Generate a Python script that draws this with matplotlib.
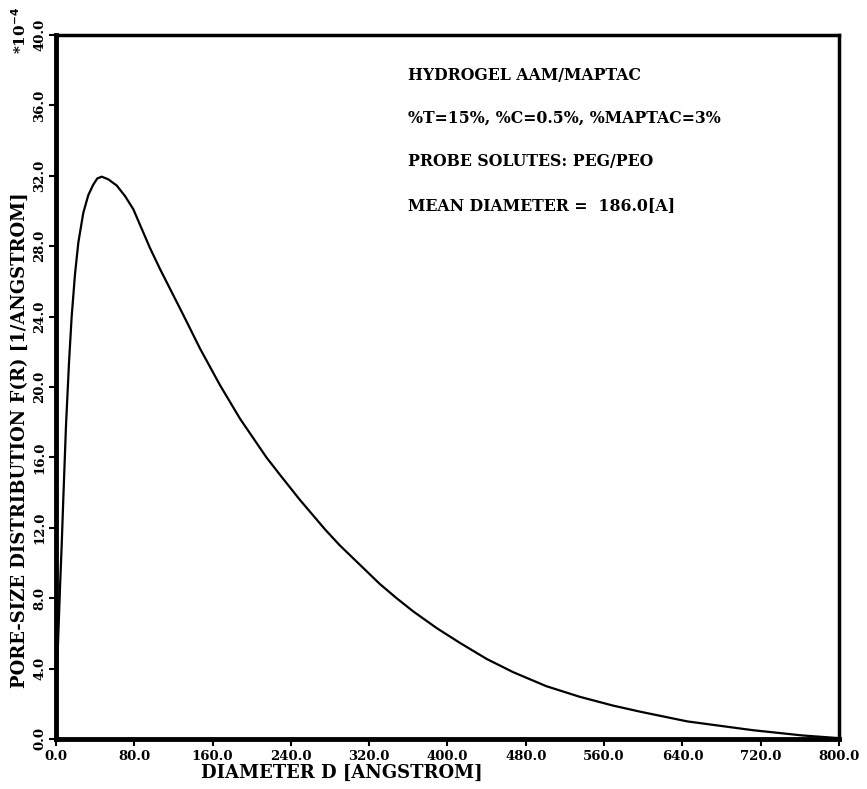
import matplotlib
matplotlib.use("Agg")
import matplotlib.pyplot as plt

# Pore-size distribution of the AAM/MAPTAC hydrogel (values in units of 1e-4 / Angstrom)
diameter = [0.0, 0.6, 1.5, 3.0, 4.3, 5.8, 7.5, 10.2, 13.3, 16.0, 19.4, 22.8,
            27.9, 33.0, 38.1, 42.2, 46.7, 53.4, 62.0, 70.5, 79.0, 87.5, 96.0,
            106.3, 130.0, 147.0, 167.6, 188.0, 215.0, 229.0, 249.0, 275.0,
            290.0, 331.0, 348.0, 365.0, 389.0, 413.0, 440.0, 467.0, 501.0,
            535.0, 569.0, 597.0, 645.0, 712.0, 763.0, 800.0]
density = [0.0, 2.5, 4.6, 6.9, 8.9, 11.0, 13.7, 17.8, 21.4, 24.0, 26.4, 28.2,
           29.9, 30.9, 31.5, 31.85, 31.95, 31.8, 31.45, 30.85, 30.1, 29.0, 27.9,
           26.7, 24.1, 22.2, 20.1, 18.2, 16.0, 15.0, 13.6, 11.9,
           11.0, 8.8, 8.0, 7.25, 6.3, 5.45, 4.55, 3.8, 3.0,
           2.4, 1.9, 1.55, 1.0, 0.5, 0.2, 0.05]

x_ticks = [0, 80, 160, 240, 320, 400, 480, 560, 640, 720, 800]
y_ticks = [0, 4, 8, 12, 16, 20, 24, 28, 32, 36, 40]

info_lines = [
    "HYDROGEL AAM/MAPTAC",
    "%T=15%, %C=0.5%, %MAPTAC=3%",
    "PROBE SOLUTES: PEG/PEO",
    "MEAN DIAMETER =  186.0[A]",
]

serif = ["DejaVu Serif"]

fig = plt.figure(figsize=(8.67, 7.89), dpi=100)
ax = fig.add_axes([56 / 867, 1 - 739 / 789, 783 / 867, 704 / 789])

ax.plot(diameter, density, color="black", lw=1.6, solid_joinstyle="round",
        solid_capstyle="round")

ax.set_xlim(0, 800)
ax.set_ylim(0, 40)
ax.set_xticks(x_ticks)
ax.set_yticks(y_ticks)
ax.set_xticklabels([f"{v:.1f}" for v in x_ticks], fontfamily=serif,
                   fontweight="bold", fontsize=9.5)
ax.set_yticklabels([f"{v:.1f}" for v in y_ticks], fontfamily=serif,
                   fontweight="bold", fontsize=9.5, rotation=90, va="center")
ax.tick_params(axis="x", direction="out", length=5, width=1.5, pad=3)
ax.tick_params(axis="y", direction="out", length=5, width=1.5, pad=2)

for side, w in (("left", 3.5), ("bottom", 3.5), ("top", 2.5), ("right", 2.5)):
    ax.spines[side].set_linewidth(w)

fig.text(342 / 867, 1 - 773 / 789, "DIAMETER D [ANGSTROM]", ha="center",
         va="center", fontfamily=serif, fontweight="bold", fontsize=13)
fig.text(20 / 867, 1 - 440 / 789, "PORE-SIZE DISTRIBUTION F(R) [1/ANGSTROM]",
         ha="center", va="center", rotation=90, fontfamily=serif,
         fontweight="bold", fontsize=13)
fig.text(20 / 867, 1 - 30 / 789, r"*10$^{\mathbf{-4}}$", ha="center",
         va="center", rotation=90, fontfamily=serif, fontweight="bold",
         fontsize=11)

for i, line in enumerate(info_lines):
    fig.text(408 / 867, 1 - (75 + 43.5 * i) / 789, line, ha="left",
             va="center", fontfamily=serif, fontweight="bold", fontsize=11.3)

fig.savefig("out.png", dpi=100)
